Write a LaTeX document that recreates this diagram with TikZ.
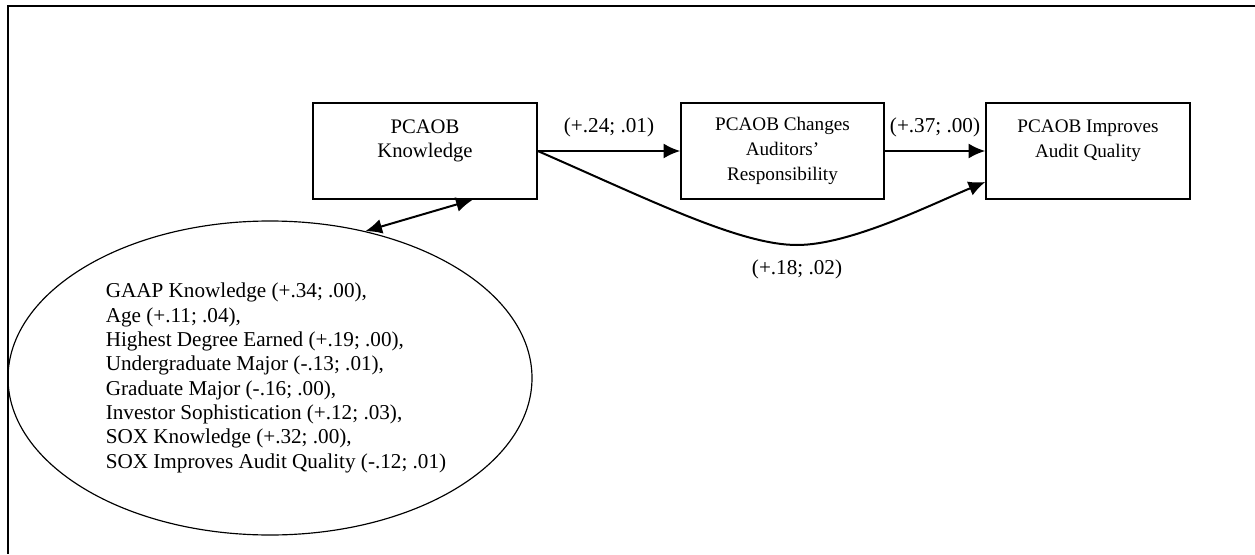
\documentclass[tikz,border=0pt]{standalone}
\usepackage{fontspec}
\setmainfont{Liberation Serif}
\usetikzlibrary{arrows.meta,shapes.geometric}

\tikzset{
  box/.style={draw, line width=0.9pt, minimum height=57.6pt, align=center, inner sep=0pt},
  smalltxt/.style={font=\fontsize{11.5}{15}\selectfont},
  arr/.style={line width=1.2pt, -{Latex[length=10pt,width=9pt]}},
  dblarr/.style={line width=1.2pt, {Latex[length=10pt,width=9pt]}-{Latex[length=10pt,width=9pt]}},
}

\begin{document}
\begin{tikzpicture}[x=0.6pt, y=-0.6pt, font=\fontsize{12.7}{14.6}\selectfont]
\useasboundingbox (0,0) rectangle (1255,554);
\draw[line width=1pt] (1255,6) -- (8,6) -- (8,554);

\node[box, minimum width=134.4pt, font=\fontsize{12.4}{14.6}\selectfont] (know) at (425,151) {PCAOB\\Knowledge\\~};
\node[box, smalltxt, minimum width=121.8pt] (resp) at (782.5,151) {PCAOB Changes\\Auditors'\\Responsibility};
\node[box, smalltxt, minimum width=122.4pt] (qual) at (1088,151) {PCAOB Improves\\Audit Quality\\~};
\node[draw, ellipse, line width=0.7pt, minimum width=314.4pt, minimum height=188.4pt, align=left] (ante) at (270,378)
  {\hspace*{7.2pt}\begin{tabular}{@{}l@{}}
   GAAP Knowledge (+.34; .00),\\
   Age (+.11; .04),\\
   Highest Degree Earned (+.19; .00),\\
   Undergraduate Major (-.13; .01),\\
   Graduate Major (-.16; .00),\\
   Investor Sophistication (+.12; .03),\\
   SOX Knowledge (+.32; .00),\\
   SOX Improves Audit Quality (-.12; .01)
   \end{tabular}};

\draw[arr] (know.east) -- (resp.west) node[midway, above=4.4pt] {(+.24; .01)};
\draw[arr] (resp.east) -- (qual.west) node[midway, above=4.4pt] {(+.37; .00)};
% direct path, with a flat bottom under the middle box
\draw[arr] (know.east) .. controls (650,200) and (740,245) .. (797,245)
  node[below=5pt] {(+.18; .02)}
  .. controls (850,245) and (930,205) .. ([yshift=-18.6pt]qual.west);
\draw[dblarr] (ante.57) -- ([xshift=-39pt]know.south east);
\end{tikzpicture}
\end{document}
